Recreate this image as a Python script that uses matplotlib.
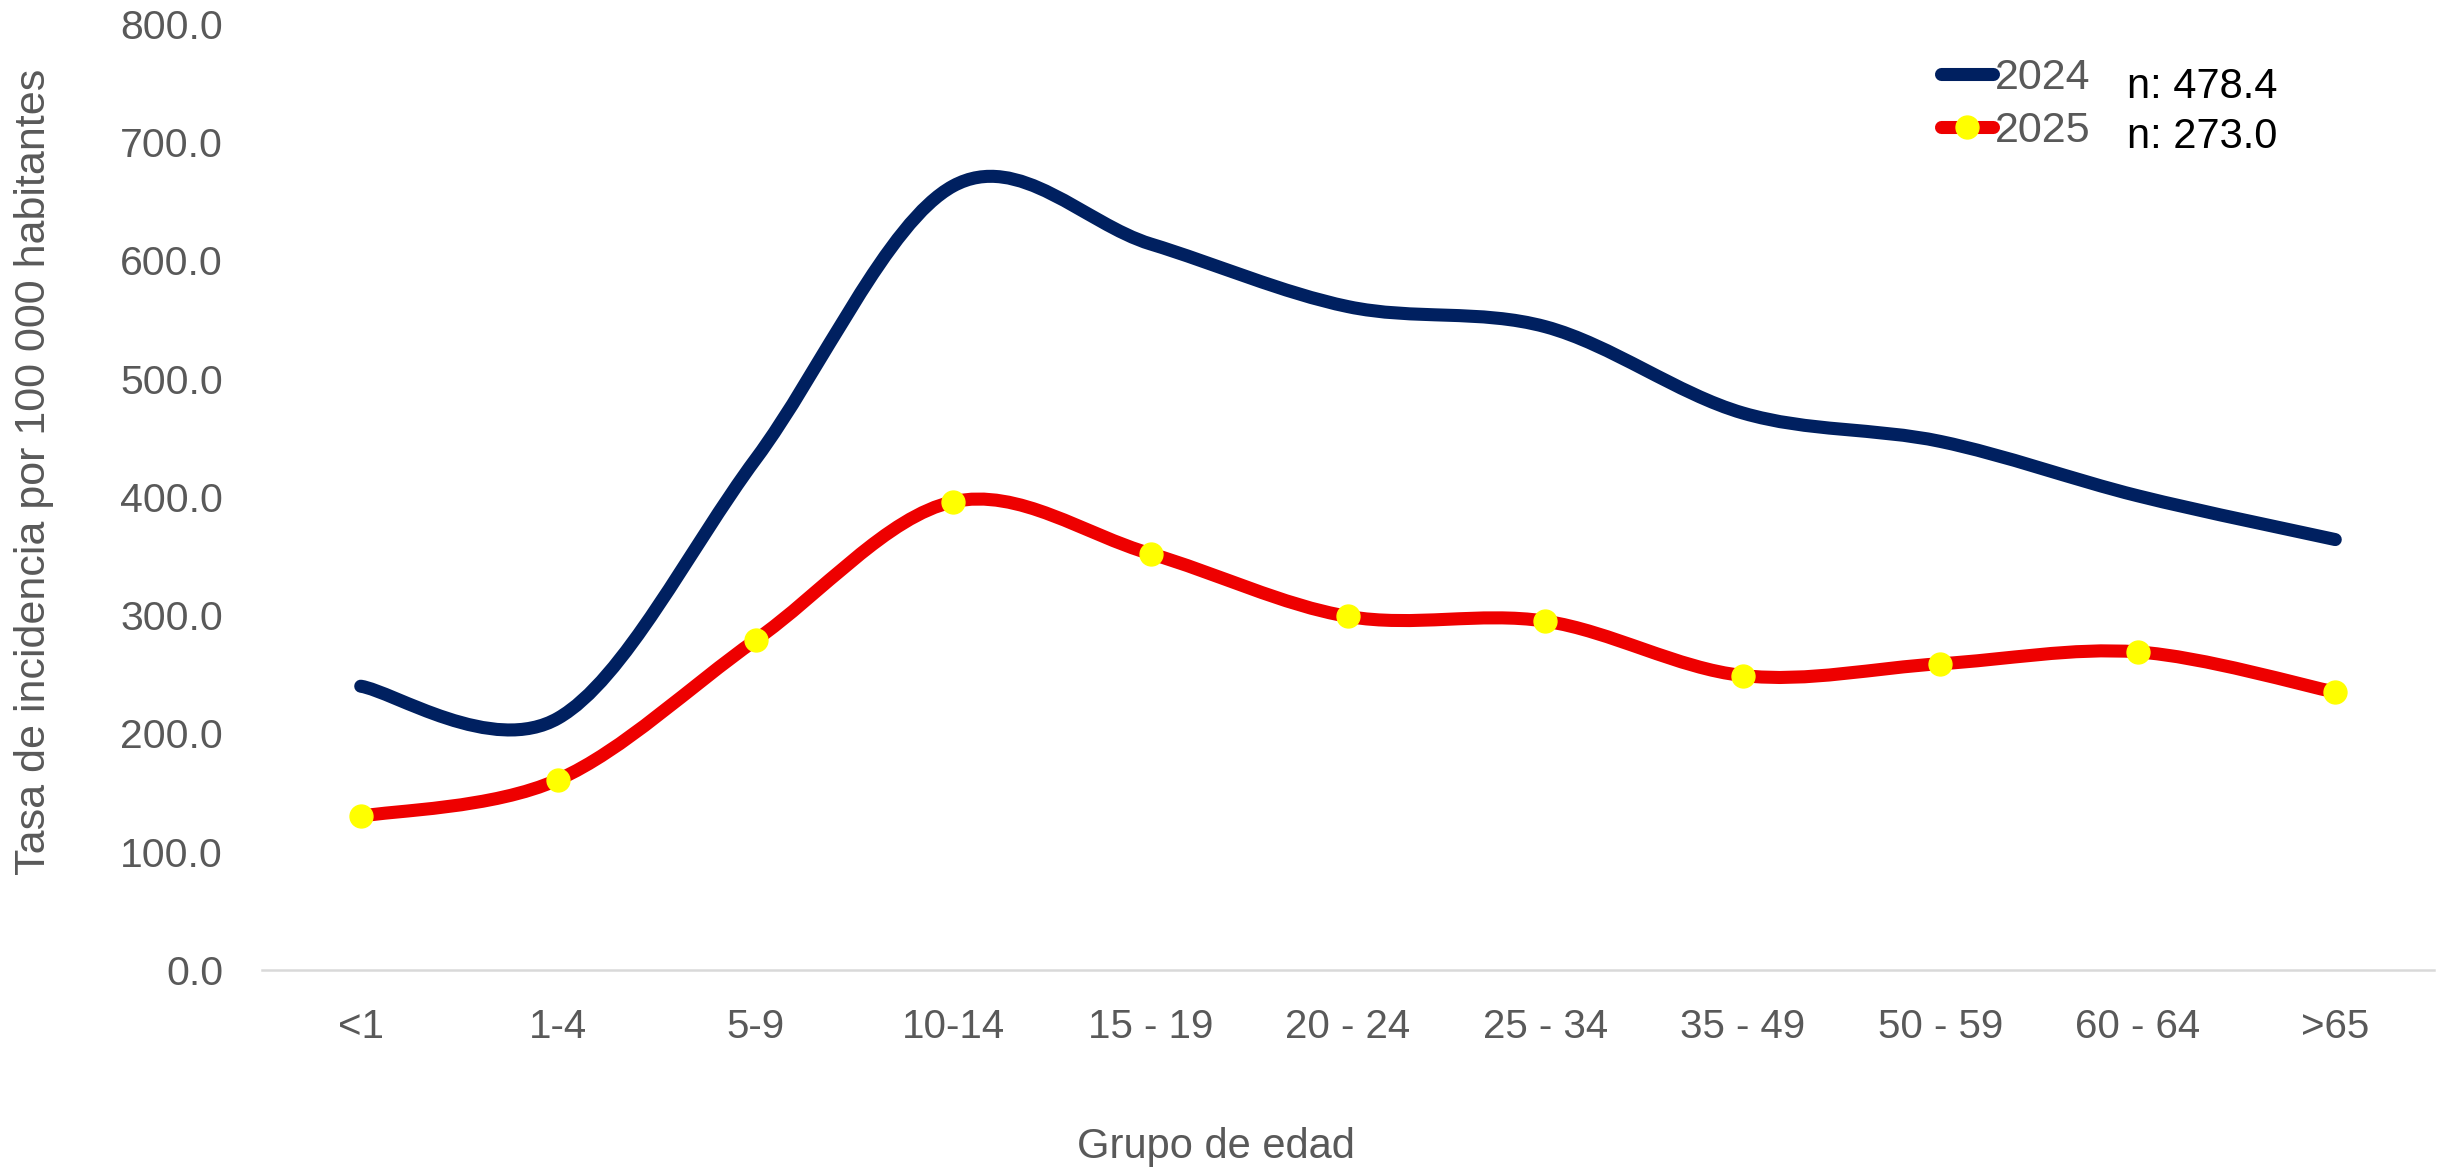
import matplotlib
matplotlib.use("Agg")
import matplotlib.pyplot as plt
from matplotlib.path import Path
from matplotlib.patches import PathPatch
from matplotlib.lines import Line2D
import numpy as np

categories = ["<1", "1-4", "5-9", "10-14", "15 - 19", "20 - 24", "25 - 34", "35 - 49", "50 - 59", "60 - 64", ">65"]
values_2024 = [240, 213, 432, 663, 614, 561, 544, 471, 447, 401, 364]
values_2025 = [130, 161, 279, 396, 352, 299, 295, 249, 259, 269, 235]
legend_labels = ["2024", "2025"]
n_labels = ["n: 478.4", "n: 273.0"]
yticks = [0, 100, 200, 300, 400, 500, 600, 700, 800]

plt.rcParams['font.family'] = ['Liberation Sans', 'DejaVu Sans']

W, H = 2451, 1168
fig = plt.figure(figsize=(W / 100, H / 100), dpi=100)
ax = fig.add_axes([262 / W, (H - 970) / H, (2434 - 262) / W, (970 - 24) / H])

def smooth_path(xs, ys):
    pts = np.column_stack([xs, ys]).astype(float)
    n = len(pts)
    verts = [tuple(pts[0])]
    codes = [Path.MOVETO]
    for i in range(n - 1):
        p0 = pts[i - 1] if i > 0 else pts[i]
        p1 = pts[i]
        p2 = pts[i + 1]
        p3 = pts[i + 2] if i + 2 < n else pts[i + 1]
        c1 = p1 + (p2 - p0) / 6.0
        c2 = p2 - (p3 - p1) / 6.0
        verts += [tuple(c1), tuple(c2), tuple(p2)]
        codes += [Path.CURVE4] * 3
    return Path(verts, codes)

x = np.arange(len(categories))
blue = "#002060"
red = "#EE0000"
yellow = "#FFFF00"
lw = 9.4
ms = 16.5
ax.add_patch(PathPatch(smooth_path(x, values_2024), facecolor="none", edgecolor=blue, lw=lw,
                       capstyle="round", joinstyle="round"))
ax.add_patch(PathPatch(smooth_path(x, values_2025), facecolor="none", edgecolor=red, lw=lw,
                       capstyle="round", joinstyle="round"))
ax.plot(x, values_2025, linestyle="none", marker="o", markersize=ms,
        markerfacecolor=yellow, markeredgecolor=yellow)

ax.set_xlim(-0.5, len(categories) - 0.5)
ax.set_ylim(0, 800)
ax.set_yticks(yticks)
ax.set_yticklabels([f"{v:.1f}" for v in yticks])
ax.set_xticks(x)
ax.set_xticklabels(categories)
ax.tick_params(axis="both", length=0, colors="#595959")
ax.tick_params(axis="x", labelsize=29, pad=27)
ax.tick_params(axis="y", labelsize=29.5, pad=28)
for s in ["top", "right", "left"]:
    ax.spines[s].set_visible(False)
ax.spines["bottom"].set_color("#D9D9D9")
ax.spines["bottom"].set_linewidth(1.8)

ax.set_xlabel("Grupo de edad", fontsize=30, color="#595959")
ax.xaxis.set_label_coords(0.439, -0.166)
ax.set_ylabel("Tasa de incidencia por 100 000 habitantes", fontsize=31, color="#595959")
ax.yaxis.set_label_coords(-0.0958, 0.527)

handles = [Line2D([], [], color=blue, lw=lw, solid_capstyle="round"),
           Line2D([], [], color=red, lw=lw, solid_capstyle="round", marker="o",
                  markersize=ms, markerfacecolor=yellow, markeredgecolor=yellow)]
leg = ax.legend(handles, legend_labels, loc="upper left", bbox_to_anchor=(1941 / W, (H - 58) / H),
                bbox_transform=fig.transFigure, frameon=False, fontsize=31,
                handlelength=1.2, handletextpad=0.05, labelspacing=0.3, borderpad=0,
                borderaxespad=0)
for t in leg.get_texts():
    t.set_color("#595959")
fig.text(2127 / W, (H - 98) / H, n_labels[0], fontsize=30, color="black", va="baseline")
fig.text(2127 / W, (H - 148) / H, n_labels[1], fontsize=30, color="black", va="baseline")

fig.savefig("out.png", dpi=100)
